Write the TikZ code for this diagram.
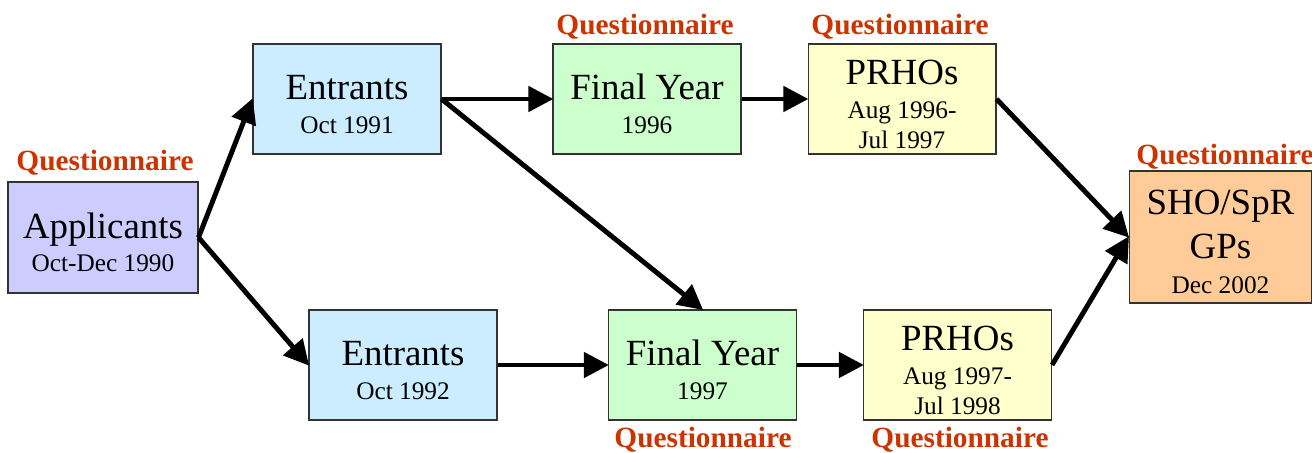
\documentclass[tikz,border=0pt]{standalone}
\usepackage{fontspec}
\setmainfont{Liberation Serif}
\usetikzlibrary{arrows.meta}
\definecolor{lav}{RGB}{204,204,255}
\definecolor{lblue}{RGB}{204,236,255}
\definecolor{lgreen}{RGB}{204,255,204}
\definecolor{lyellow}{RGB}{255,255,204}
\definecolor{lorange}{RGB}{255,204,153}
\definecolor{qred}{RGB}{204,51,0}
\definecolor{bord}{RGB}{51,51,51}
\newcommand{\smltxt}[1]{{\fontsize{14.4}{17}\selectfont #1}}
\newcommand{\tstrut}{\rule{0pt}{20pt}}
\tikzset{
  stagebox/.style={draw=bord, line width=0.6pt, minimum width=3.76cm, minimum height=2.2cm, align=center, inner sep=0pt, font=\fontsize{21}{25}\selectfont},
  qlabel/.style={text=qred, font=\fontsize{16.7}{19}\selectfont\bfseries, inner sep=0pt},
  flow/.style={line width=2.8pt, -{Triangle[length=0.5cm,width=0.5cm]}, shorten >=-0.5pt}
}
\begin{document}
\begin{tikzpicture}[x=0.02cm,y=-0.02cm]
\useasboundingbox (0,0) rectangle (1312,453);
\node[stagebox, fill=lav, minimum width=3.8cm, minimum height=2.22cm] (app) at (103,237.5) {\tstrut Applicants\\[-6pt]\smltxt{Oct-Dec 1990}};
\node[stagebox, fill=lblue] (ent1) at (347,99) {\tstrut Entrants\\[-6pt]\smltxt{Oct 1991}};
\node[stagebox, fill=lgreen] (fy96) at (647,99) {\tstrut Final Year\\[-6pt]\smltxt{1996}};
\node[stagebox, fill=lyellow] (pr96) at (902,99) {\tstrut PRHOs\\[-6pt]\smltxt{Aug 1996-}\\[-8pt]\smltxt{Jul 1997}};
\node[stagebox, fill=lorange, minimum width=3.66cm, minimum height=2.64cm] (sho) at (1220.5,237) {\tstrut SHO/SpR\\GPs\\[-5pt]\smltxt{Dec 2002}};
\node[stagebox, fill=lblue] (ent2) at (403,365) {\tstrut Entrants\\[-6pt]\smltxt{Oct 1992}};
\node[stagebox, fill=lgreen] (fy97) at (702.5,365) {\tstrut Final Year\\[-6pt]\smltxt{1997}};
\node[stagebox, fill=lyellow] (pr97) at (957.5,365) {\tstrut PRHOs\\[-6pt]\smltxt{Aug 1997-}\\[-8pt]\smltxt{Jul 1998}};
\node[qlabel] (q1) at (105,163) {Questionnaire};
\node[qlabel] (q2) at (645,27) {Questionnaire};
\node[qlabel] (q3) at (900,27) {Questionnaire};
\node[qlabel] (q4) at (1225,157) {Questionnaire};
\node[qlabel] (q5) at (703,440) {Questionnaire};
\node[qlabel] (q6) at (960,440) {Questionnaire};
\draw[flow] (app.east) -- (ent1.west);
\draw[flow] (app.east) -- (ent2.west);
\draw[flow] (ent1.east) -- (fy96.west);
\draw[flow] (ent1.east) -- (fy97.north);
\draw[flow] (fy96.east) -- (pr96.west);
\draw[flow] (pr96.east) -- (sho.west);
\draw[flow] (ent2.east) -- (fy97.west);
\draw[flow] (fy97.east) -- (pr97.west);
\draw[flow] (pr97.east) -- (sho.west);
\end{tikzpicture}
\end{document}
